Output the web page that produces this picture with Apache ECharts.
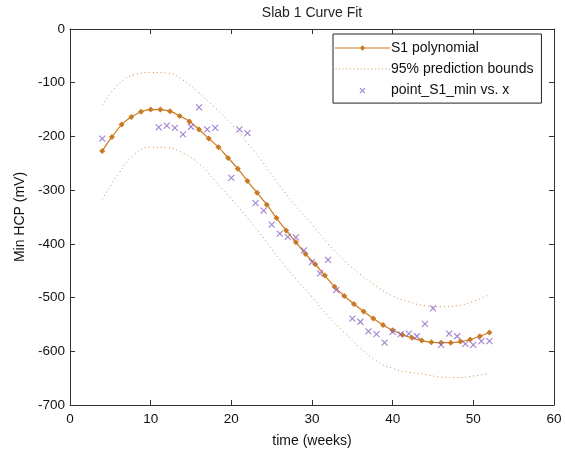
<!DOCTYPE html>
<html>
<head>
<meta charset="utf-8">
<title>Slab 1 Curve Fit</title>
<script src="https://cdn.jsdelivr.net/npm/echarts@6/dist/echarts.min.js"></script>
<style>
  html, body { margin: 0; padding: 0; background: #fff; }
  #chart { width: 565px; height: 453px; }
</style>
</head>
<body>
<div id="chart"></div>
<script>
// fitted polynomial, sampled where the markers sit
const fitX = [4, 5.2, 6.4, 7.6, 8.8, 10, 11.2, 12.4, 13.6, 14.8, 16, 17.2, 18.4, 19.6, 20.8, 22, 23.2, 24.4, 25.6, 26.8,
  28, 29.2, 30.4, 31.6, 32.8, 34, 35.2, 36.4, 37.6, 38.8, 40, 41.2, 42.4, 43.6, 44.8, 46, 47.2, 48.4, 49.6, 50.8, 52];
const fitY = [-227, -201, -178, -164, -154, -150, -150, -153, -162, -172, -187, -204, -220, -240, -260, -283, -305, -327, -352, -375,
  -397, -419, -438, -459, -480, -497, -512, -526, -539, -551, -561, -569, -575, -580, -583, -584, -584, -582, -578, -572, -565];

// 95% prediction bounds
const boundX = [4, 6, 8, 10, 12, 14, 16, 18, 20, 22, 24, 26, 28, 30, 32, 34, 36, 38, 40, 42, 44, 46, 48, 50, 52];
const upperY = [-142, -103, -85, -81, -82, -95, -119, -147, -177, -212, -250, -292, -330, -364, -400, -431, -457, -479, -497, -508, -515, -517, -515, -507, -494];
const lowerY = [-317, -270, -233, -220, -221, -231, -251, -283, -316, -352, -389, -429, -465, -499, -535, -565, -594, -618, -632, -639, -643, -648, -649, -646, -641];

// measured points
const ptX = [4, 11, 12, 13, 14, 15, 16, 17, 18, 20, 21, 22, 23, 24, 25, 26, 27, 28, 29, 30, 31, 32, 33,
  35, 36, 37, 38, 39, 40, 41, 42, 43, 44, 45, 46, 47, 48, 49, 50, 51, 52];
const ptY = [-204, -183, -180, -184, -196, -182, -146, -187, -184, -277, -187, -194, -324, -338, -364, -381, -387, -388, -412, -434, -455, -430, -486,
  -539, -545, -563, -568, -584, -564, -568, -567, -572, -549, -520, -588, -567, -572, -586, -588, -581, -581];

const xTicks = [0, 10, 20, 30, 40, 50, 60];
const yTicks = [-700, -600, -500, -400, -300, -200, -100, 0];

const FONT = 'Liberation Sans, Arial, sans-serif';
const AX = '#333';
const FIT = '#c97a22';
const PT = '#8a63c6';

const pairs = (xs, ys) => xs.map((x, i) => [x, ys[i]]);

// legend icons, drawn in a 55x14 box (the two corner moves pin the box)
const BOX = 'M0,0L0,0.01M55,14L55,13.99';
let dots = '';
for (let x = 0.5; x < 55; x += 3.6) dots += 'M' + x + ',6.5h1v1h-1z';
const iconFit = 'path://' + BOX + 'M0,6.4h55v1.2h-55zM27.5,4.2L30.3,7L27.5,9.8L24.7,7z';
const iconBound = 'path://' + BOX + dots;
const iconPt = 'path://M0,0L0,0.01M14,14L14,13.99M4.5,4.5L9.5,9.5M9.5,4.5L4.5,9.5';

const chart = echarts.init(document.getElementById('chart'));

const boxAxis = {
  axisLine: {show: true, onZero: false, lineStyle: {color: AX, width: 1}},
  axisTick: {show: true, inside: true, length: 5, lineStyle: {color: AX}},
  splitLine: {show: false}
};

chart.setOption({
  animation: false,
  backgroundColor: '#fff',
  textStyle: {fontFamily: FONT},
  graphic: [{
    type: 'text', x: 312, y: 13,
    style: {text: 'Slab 1 Curve Fit', fontSize: 14, fontFamily: FONT, fill: '#222', align: 'center', verticalAlign: 'middle'}
  }],
  grid: {left: 70, right: 11, top: 29, bottom: 42},
  legend: {
    orient: 'vertical',
    left: 333, top: 34,
    padding: [7, 8, 5, 2],
    itemWidth: 55, itemHeight: 14, itemGap: 7,
    backgroundColor: '#fff',
    borderColor: '#222', borderWidth: 1, borderRadius: 0,
    textStyle: {fontSize: 14, color: '#111', fontFamily: FONT, padding: [0, 0, 0, -4]},
    data: [
      {name: 'S1 polynomial', icon: iconFit, itemStyle: {color: FIT, borderWidth: 0}},
      {name: '95% prediction bounds', icon: iconBound, itemStyle: {color: FIT, borderWidth: 0, opacity: 0.85}},
      {name: 'point_S1_min vs. x', icon: iconPt, itemStyle: {color: 'rgba(0,0,0,0)', borderColor: PT, borderWidth: 1.1}}
    ]
  },
  xAxis: [
    Object.assign({
      type: 'value', position: 'bottom', min: xTicks[0], max: xTicks[xTicks.length - 1], interval: 10,
      name: 'time (weeks)', nameLocation: 'middle', nameGap: 29,
      nameTextStyle: {fontSize: 14, color: '#111', fontFamily: FONT},
      axisLabel: {fontSize: 13.5, color: '#111', margin: 7, fontFamily: FONT}
    }, boxAxis),
    Object.assign({
      type: 'value', position: 'top', min: 0, max: 60, interval: 10,
      axisLabel: {show: false}
    }, boxAxis)
  ],
  yAxis: [
    Object.assign({
      type: 'value', position: 'left', min: yTicks[0], max: yTicks[yTicks.length - 1], interval: 100,
      name: 'Min HCP (mV)', nameLocation: 'middle', nameGap: 40,
      nameTextStyle: {fontSize: 14, color: '#111', fontFamily: FONT},
      axisLabel: {fontSize: 13.5, color: '#111', margin: 5, fontFamily: FONT}
    }, boxAxis),
    Object.assign({
      type: 'value', position: 'right', min: -700, max: 0, interval: 100,
      axisLabel: {show: false}
    }, boxAxis)
  ],
  series: [
    {
      name: '95% prediction bounds', type: 'line', smooth: true, symbol: 'none',
      data: pairs(boundX, upperY),
      lineStyle: {color: FIT, width: 1, type: [1, 3], opacity: 0.85},
      itemStyle: {color: FIT}, z: 2
    },
    {
      name: '95% prediction bounds', type: 'line', smooth: true, symbol: 'none',
      data: pairs(boundX, lowerY),
      lineStyle: {color: FIT, width: 1, type: [1, 3], opacity: 0.85},
      itemStyle: {color: FIT}, z: 2
    },
    {
      name: 'S1 polynomial', type: 'line', smooth: 0.3,
      symbol: 'diamond', symbolSize: 6, showAllSymbol: true,
      data: pairs(fitX, fitY),
      lineStyle: {color: FIT, width: 1.2},
      itemStyle: {color: FIT}, z: 3
    },
    {
      name: 'point_S1_min vs. x', type: 'scatter',
      symbol: 'path://M0,0L10,10M10,0L0,10', symbolSize: 6,
      data: pairs(ptX, ptY),
      itemStyle: {color: 'rgba(0,0,0,0)', borderColor: PT, borderWidth: 1.1}, z: 4
    }
  ]
});
</script>
</body>
</html>
